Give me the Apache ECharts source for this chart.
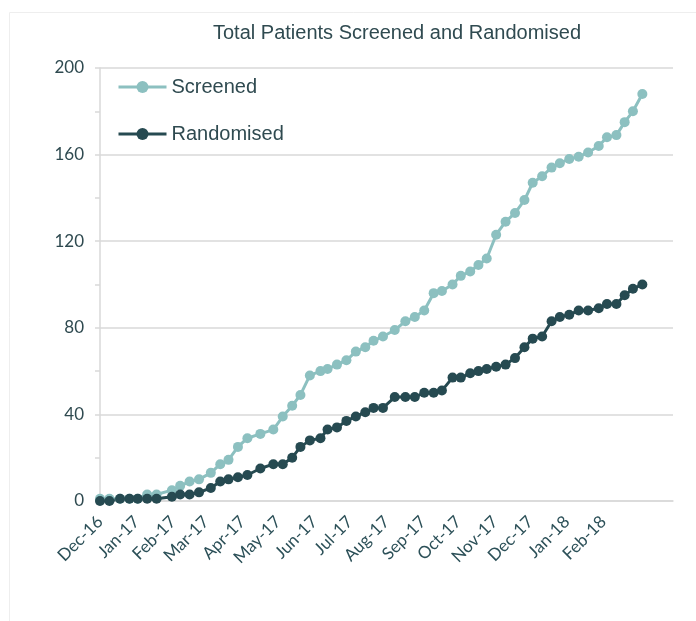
<!DOCTYPE html>
<html>
<head>
<meta charset="utf-8">
<script src="https://cdn.jsdelivr.net/npm/echarts@6/dist/echarts.min.js"></script>
<style>
html,body{margin:0;padding:0;background:#fff;}
#chart{width:696px;height:621px;}
</style>
</head>
<body>
<div id="chart"></div>
<script>
// Report dates (approximately weekly)
const dates = [
  '2016-12-01','2016-12-09','2016-12-18','2016-12-26','2017-01-02','2017-01-10','2017-01-18','2017-01-31',
  '2017-02-07','2017-02-15','2017-02-23','2017-03-05','2017-03-13','2017-03-20','2017-03-28','2017-04-05',
  '2017-04-16','2017-04-27','2017-05-05','2017-05-13','2017-05-20','2017-05-28','2017-06-06','2017-06-12',
  '2017-06-20','2017-06-28','2017-07-06','2017-07-14','2017-07-21','2017-07-29','2017-08-08','2017-08-17',
  '2017-08-25','2017-09-02','2017-09-10','2017-09-17','2017-09-26','2017-10-03','2017-10-11','2017-10-18',
  '2017-10-25','2017-11-02','2017-11-10','2017-11-18','2017-11-26','2017-12-03','2017-12-11','2017-12-19',
  '2017-12-26','2018-01-03','2018-01-11','2018-01-19','2018-01-28','2018-02-04','2018-02-12','2018-02-19',
  '2018-02-26','2018-03-06'
];
const screened = [
  1,1,1,1,1,3,3,5,7,9,10,13,17,19,25,29,31,33,39,44,49,58,60,61,63,
  65,69,71,74,76,79,83,85,88,96,97,100,104,106,109,112,123,129,133,139,
  147,150,154,156,158,159,161,164,168,169,175,180,188
];
const randomised = [
  0,0,1,1,1,1,1,2,3,3,4,6,9,10,11,12,15,17,17,20,25,28,29,33,34,
  37,39,41,43,43,48,48,48,50,50,51,57,57,59,60,61,62,63,66,71,75,76,
  83,85,86,88,88,89,91,91,95,98,100
];
const tickLabels = ['Dec-16','Jan-17','Feb-17','Mar-17','Apr-17','May-17','Jun-17','Jul-17',
  'Aug-17','Sep-17','Oct-17','Nov-17','Dec-17','Jan-18','Feb-18'];
const yTicks = [0, 40, 80, 120, 160, 200];
const seriesNames = ['Screened', 'Randomised'];

const chart = echarts.init(document.getElementById('chart'), null, {renderer: 'canvas'});
const toPairs = vals => vals.map((v, i) => [dates[i], v]);
const DAY = 86400000;

const option = {
  backgroundColor: '#ffffff',
  animation: false,
  title: {
    text: 'Total Patients Screened and Randomised',
    left: 208, top: 18,
    textStyle: {fontFamily: 'Liberation Sans', fontSize: 20, fontWeight: 'normal', color: '#2f4a50'}
  },
  graphic: [{
    type: 'rect', shape: {x: 9.5, y: 12.5, width: 700, height: 640},
    style: {fill: 'none', stroke: '#eeeeee', lineWidth: 1}, silent: true
  }],
  legend: {
    orient: 'vertical', left: 112, top: 72,
    itemWidth: 48, itemHeight: 15, itemGap: 27,
    lineStyle: {width: 3},
    textStyle: {fontFamily: 'Liberation Sans', fontSize: 20, color: '#2f4a50', padding: [0,0,0,0]},
    data: seriesNames
  },
  grid: {left: 100, right: 23, top: 68, bottom: 120, containLabel: false},
  xAxis: {
    type: 'time',
    min: '2016-12-01', max: '2018-04-01',
    minInterval: 28 * DAY, maxInterval: 31 * DAY,
    splitLine: {show: false},
    axisLine: {show: true, lineStyle: {color: '#d9d9d9', width: 1.5}},
    axisTick: {show: false},
    axisLabel: {
      rotate: 45, margin: 18, hideOverlap: false, showMinLabel: true, showMaxLabel: true,
      fontFamily: 'Lato', fontSize: 17, color: '#2c5058',
      formatter: function (value) {
        const d = new Date(value);
        const k = (d.getFullYear() - 2016) * 12 + d.getMonth() - 11;
        return (k >= 0 && k < tickLabels.length && d.getDate() === 1) ? tickLabels[k] : '';
      }
    }
  },
  yAxis: {
    type: 'value', min: yTicks[0], max: yTicks[yTicks.length - 1], interval: 40,
    axisLine: {show: true, lineStyle: {color: '#d9d9d9', width: 1.5}},
    axisTick: {show: true, length: 5, lineStyle: {color: '#d9d9d9', width: 1.5}},
    minorTick: {show: true, splitNumber: 2, length: 5, lineStyle: {color: '#d9d9d9', width: 1.5}},
    splitLine: {show: true, lineStyle: {color: '#d9d9d9', width: 1.5}},
    axisLabel: {margin: 16, fontFamily: 'Lato', fontSize: 17, color: '#2f4a50'}
  },
  series: [
    {
      name: seriesNames[0], type: 'line', data: toPairs(screened),
      symbol: 'circle', symbolSize: 10, showAllSymbol: true,
      lineStyle: {color: '#8cc0c0', width: 3},
      itemStyle: {color: '#8cc0c0'}
    },
    {
      name: seriesNames[1], type: 'line', data: toPairs(randomised),
      symbol: 'circle', symbolSize: 10, showAllSymbol: true,
      lineStyle: {color: '#264a51', width: 3},
      itemStyle: {color: '#264a51'}
    }
  ]
};
chart.setOption(option);
</script>
</body>
</html>
